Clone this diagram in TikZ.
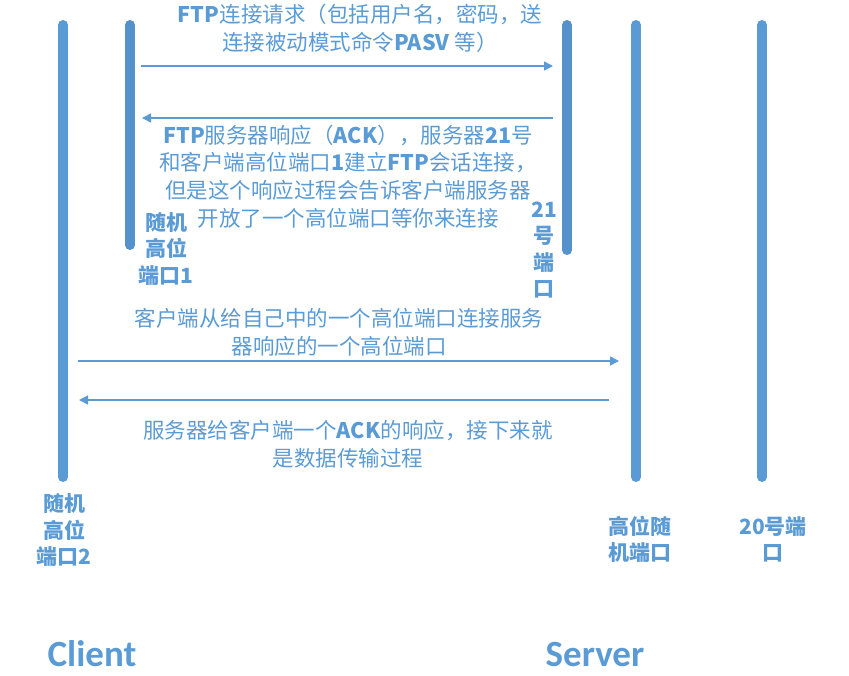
\documentclass[tikz,border=0pt]{standalone}
\usepackage{fontspec}
\setmainfont{Noto Sans CJK SC}
\newfontfamily\latinfont{Carlito}
\usetikzlibrary {arrows.meta}
\usetikzlibrary {positioning}

\definecolor{portblue}{HTML}{5B9BD5}
\definecolor{ctrlblue}{HTML}{5591CB}

\begin{document}
\begin{tikzpicture}[x=1pt, y=-1pt, >={Triangle[length=9pt, width=9pt]},
        bar/.style={line width=10pt, line cap=round, portblue},
        msg/.style={->, portblue, line width=1.5pt},
        note/.style={text=portblue, font=\fontsize{21.5}{27.8}\selectfont, align=center, inner sep=0pt},
        port/.style={text=portblue, font=\bfseries\fontsize{21}{26.5}\selectfont, align=center, inner sep=0pt},
        side/.style={text=portblue, font=\latinfont\bfseries\fontsize{37}{40}\selectfont, inner sep=0pt}]
    \useasboundingbox (0, 0) rectangle (849, 675);

    \coordinate (c2t) at (63, 25);
    \coordinate (c2b) at (63, 477);
    \coordinate (c1t) at (130, 25);
    \coordinate (c1b) at (130, 245);
    \coordinate (s21t) at (567, 25);
    \coordinate (s21b) at (567, 250);
    \coordinate (sht) at (636, 25);
    \coordinate (shb) at (636, 477);
    \coordinate (s20t) at (762, 25);
    \coordinate (s20b) at (762, 477);

    \draw[bar] (c2t) -- (c2b);
    \draw[bar, ctrlblue] (c1t) -- (c1b);
    \draw[bar, ctrlblue] (s21t) -- (s21b);
    \draw[bar] (sht) -- (shb);
    \draw[bar] (s20t) -- (s20b);

    \coordinate (req1) at (141, 66);
    \coordinate (req2) at (553, 66);
    \coordinate (ack1) at (553, 118);
    \coordinate (ack2) at (142, 118);
    \coordinate (dat1) at (78, 361);
    \coordinate (dat2) at (619, 361);
    \coordinate (dack1) at (609, 400);
    \coordinate (dack2) at (79, 400);

    \draw[msg] (req1) -- (req2);
    \draw[msg] (ack1) -- (ack2);
    \draw[msg] (dat1) -- (dat2);
    \draw[msg] (dack1) -- (dack2);

    \node[note] (reqtext) at (360, 28) {\textbf{FTP}连接请求（包括用户名，密码，送\\连接被动模式命令\textbf{PASV} 等）};
    \node[note] (acktext) at (348, 176.5) {\textbf{FTP}服务器响应（\textbf{ACK}），服务器\textbf{21}号\\和客户端高位端口\textbf{1}建立\textbf{FTP}会话连接，\\但是这个响应过程会告诉客户端服务器\\开放了一个高位端口等你来连接};
    \node[note] (dattext) at (339, 332.5) {客户端从给自己中的一个高位端口连接服务\\器响应的一个高位端口};
    \node[note] (dacktext) at (348, 444.5) {服务器给客户端一个\textbf{ACK}的响应，接下来就\\是数据传输过程};

    \node[port] (port1) at (166, 249) {随机\\高位\\端口1};
    \node[port] (port21) at (544, 250) {21\\号\\端\\口};
    \node[port] (port2) at (64, 530.5) {随机\\高位\\端口2};
    \node[port] (porthigh) at (640, 539.5) {高位随\\机端口};
    \node[port] (port20) at (773, 539.5) {20号端\\口};

    \node[side, anchor=base] (client) at (92, 666) {Client};
    \node[side, anchor=base] (server) at (595, 666) {Server};
\end{tikzpicture}
\end{document}
